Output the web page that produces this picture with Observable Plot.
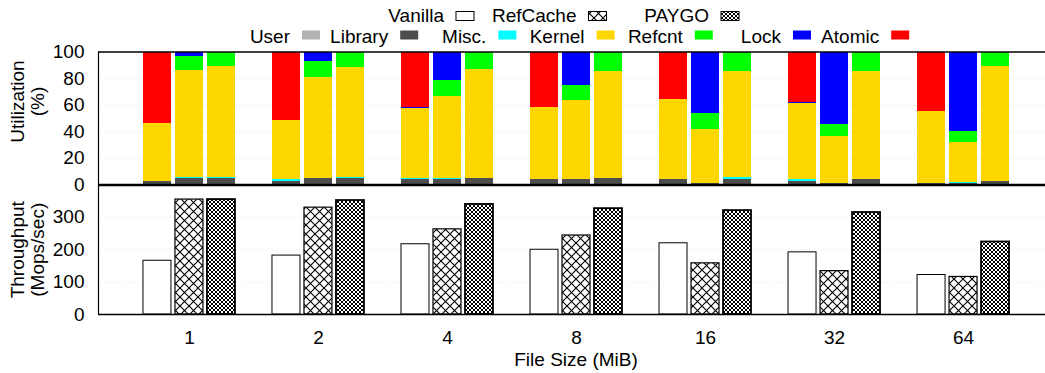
<!DOCTYPE html>
<html><head><meta charset="utf-8">
<script src="https://cdn.jsdelivr.net/npm/d3@7"></script>
<script src="https://cdn.jsdelivr.net/npm/@observablehq/plot@0.6"></script>
<style>
html,body{margin:0;padding:0;background:#fff;}
#chart{position:relative;width:1045px;height:373px;overflow:hidden;font-family:"Liberation Sans",Arial,sans-serif;}
#chart svg{position:absolute;left:0;}
</style></head><body><div id="chart"></div>
<script>
// ---------- data ----------
const fileSizes = ["1", "2", "4", "8", "16", "32", "64"];
const systems = ["Vanilla", "RefCache", "PAYGO"];
const categories = ["User", "Library", "Misc.", "Kernel", "Refcnt", "Lock", "Atomic"];
const categoryColors = ["#b3b3b3", "#4d4d4d", "#00ffff", "#ffd700", "#00ff00", "#0000ff", "#ff0000"];

// utilization (%) per file size: [User, Library, Misc., Kernel, Refcnt, Lock, Atomic]
const vanillaUtil = [
  [0, 3, 0, 43, 0, 0, 54],
  [0, 3, 1, 44.5, 0, 0, 51.5],
  [0, 4, 1, 52.5, 0, 0.8, 41.7],
  [0, 4, 0, 54, 0, 0, 42],
  [0, 4, 0, 60, 0, 0, 36],
  [0, 3, 0.8, 57.4, 0, 0.8, 38],
  [0, 1.5, 0, 53.5, 0, 0, 45]
];
const refCacheUtil = [
  [0, 5, 1, 80, 10.5, 3.5, 0],
  [0, 5, 0, 76, 12, 7, 0],
  [0, 4, 1, 61.5, 12, 21.5, 0],
  [0, 4, 0, 59.5, 11.3, 25.2, 0],
  [0, 1.5, 0, 40, 12, 46.5, 0],
  [0, 1.5, 0, 35, 9, 54.5, 0],
  [0, 0.8, 0.8, 30, 8.4, 60, 0]
];
const paygoUtil = [
  [0, 5, 1, 83, 11, 0, 0],
  [0, 5, 1, 82.5, 11.5, 0, 0],
  [0, 5, 0, 82, 13, 0, 0],
  [0, 5, 0, 80.5, 14.5, 0, 0],
  [0, 4.5, 0.8, 80, 14.7, 0, 0],
  [0, 4.5, 0, 81, 14.5, 0, 0],
  [0, 3, 0, 86, 11, 0, 0]
];
// throughput (Mops/sec)
const vanillaTput = [166, 182, 217, 200, 220, 192, 122];
const refCacheTput = [355, 330, 263, 244, 158, 134, 116];
const paygoTput = [355, 352, 340, 327, 321, 315, 224];

const utilTicks = [0, 20, 40, 60, 80, 100];
const tputTicks = [0, 100, 200, 300];

// ---------- layout / style ----------
const FONT = '"Liberation Sans", Arial, Helvetica, sans-serif';
const FS = 19;
const xDomain = [-0.705, 6.705];
const xRange = [98, 1054];
const slot = 0.248, half = 0.1085;
const bx1 = d => d.group + (d.system - 1) * slot - half;
const bx2 = d => d.group + (d.system - 1) * slot + half;
const sysFill = ["#ffffff", "url(#pRef)", "url(#pPay)"];
const sysStrokeW = [1, 1.2, 1.8];
const gridStyle = {stroke: "#111", strokeDasharray: "1,2", strokeWidth: 1};
const svgStyle = {fontFamily: FONT, fontSize: FS + "px", color: "#000", background: "transparent", overflow: "visible"};

const chart = document.getElementById("chart");

// pattern definitions
const defs = d3.select(chart).append("svg").attr("width", 0).attr("height", 0).style("top", "0px");
const dd = defs.append("defs");
const p1 = dd.append("pattern").attr("id", "pRef").attr("width", 9).attr("height", 9).attr("patternUnits", "userSpaceOnUse");
p1.append("rect").attr("width", 9).attr("height", 9).attr("fill", "#fff");
p1.append("path").attr("d", "M-1,-1L10,10M10,-1L-1,10").attr("stroke", "#000").attr("stroke-width", 1.1);
const p2 = dd.append("pattern").attr("id", "pPay").attr("width", 4).attr("height", 4).attr("patternUnits", "userSpaceOnUse");
p2.append("rect").attr("width", 4).attr("height", 4).attr("fill", "#fff");
p2.append("path").attr("d", "M-1,-1L5,5M5,-1L-1,5").attr("stroke", "#000").attr("stroke-width", 1);

// ---------- rows ----------
const utilRows = [];
[vanillaUtil, refCacheUtil, paygoUtil].forEach((table, s) => {
  table.forEach((vals, g) => {
    let acc = 0;
    vals.forEach((v, c) => {
      if (v > 0) utilRows.push({group: g, system: s, category: categories[c], y1: acc, y2: acc + v});
      acc += v;
    });
  });
});
const tputRows = [];
[vanillaTput, refCacheTput, paygoTput].forEach((arr, s) => arr.forEach((v, g) => tputRows.push({group: g, system: s, value: v})));

// ---------- top panel ----------
const topPlot = Plot.plot({
  width: 1045, height: 190,
  marginLeft: 98, marginRight: 0, marginTop: 51.5, marginBottom: 5.5,
  style: svgStyle,
  x: {domain: xDomain, range: xRange, axis: null},
  y: {domain: [0, 100], axis: null},
  color: {domain: categories, range: categoryColors},
  marks: [
    Plot.gridY([20, 40, 60, 80], gridStyle),
    Plot.rect(utilRows, {x1: bx1, x2: bx2, y1: "y1", y2: "y2", fill: "category", shapeRendering: "crispEdges"}),
    Plot.ruleY([0], {strokeWidth: 2.5}),
    Plot.ruleY([100], {strokeWidth: 1.5}),
    Plot.ruleX([xDomain[0]], {strokeWidth: 1.2}),
    Plot.axisY(utilTicks, {anchor: "left", tickSize: 0, tickPadding: 14, fontSize: FS, label: null}),
    Plot.text(["Utilization\n(%)"], {text: d => d, frameAnchor: "left", dx: -71, dy: -17, rotate: -90, fontSize: FS, lineHeight: 1.05, textAnchor: "middle", lineAnchor: "middle"})
  ]
});
topPlot.style.top = "0px";
chart.appendChild(topPlot);

// ---------- bottom panel ----------
const bottomPlot = Plot.plot({
  width: 1045, height: 193,
  marginLeft: 98, marginRight: 0, marginTop: 4.5, marginBottom: 59,
  style: svgStyle,
  x: {domain: xDomain, range: xRange, axis: null},
  y: {domain: [0, 400], axis: null},
  marks: [
    Plot.gridY([100, 200, 300], gridStyle),
    ...systems.map((name, s) => Plot.rect(tputRows.filter(d => d.system === s), {
      x1: bx1, x2: bx2, y1: 0, y2: "value", fill: sysFill[s], stroke: "#000", strokeWidth: sysStrokeW[s]
    })),
    Plot.ruleY([0], {strokeWidth: 1.5}),
    Plot.ruleX([xDomain[0]], {strokeWidth: 1.2}),
    Plot.axisY(tputTicks, {anchor: "left", tickSize: 0, tickPadding: 14, fontSize: FS, label: null}),
    Plot.axisX(d3.range(fileSizes.length), {anchor: "bottom", tickSize: 0, tickPadding: 16, tickFormat: i => fileSizes[i], fontSize: FS, label: null}),
    Plot.text(["File Size (MiB)"], {text: d => d, frameAnchor: "bottom", dx: 4, dy: 38, lineAnchor: "top", fontSize: FS}),
    Plot.text(["Throughput\n(Mops/sec)"], {text: d => d, frameAnchor: "left", dx: -71, rotate: -90, fontSize: FS, lineHeight: 1.05, textAnchor: "middle", lineAnchor: "middle"})
  ]
});
bottomPlot.style.top = "180px";
chart.appendChild(bottomPlot);

// ---------- legend ----------
const leg = d3.select(chart).append("svg").attr("width", 1045).attr("height", 48).style("top", "0px")
  .style("font-family", FONT).style("font-size", FS + "px");
systems.forEach((name, i) => {
  const sx = 456 + 132.5 * i;
  leg.append("text").attr("x", sx - 12).attr("y", 15).attr("dy", "0.35em").attr("text-anchor", "end").text(name);
  leg.append("rect").attr("x", sx).attr("y", 11.5).attr("width", 18).attr("height", 9)
    .attr("fill", sysFill[i]).attr("stroke", "#000").attr("stroke-width", 1);
});
categories.forEach((name, i) => {
  const sx = 302 + 98.2 * i;
  leg.append("text").attr("x", sx - 12).attr("y", 36.5).attr("dy", "0.35em").attr("text-anchor", "end").text(name);
  leg.append("rect").attr("x", sx).attr("y", 30.5).attr("width", 18).attr("height", 9).attr("fill", categoryColors[i]);
});
</script></body></html>
